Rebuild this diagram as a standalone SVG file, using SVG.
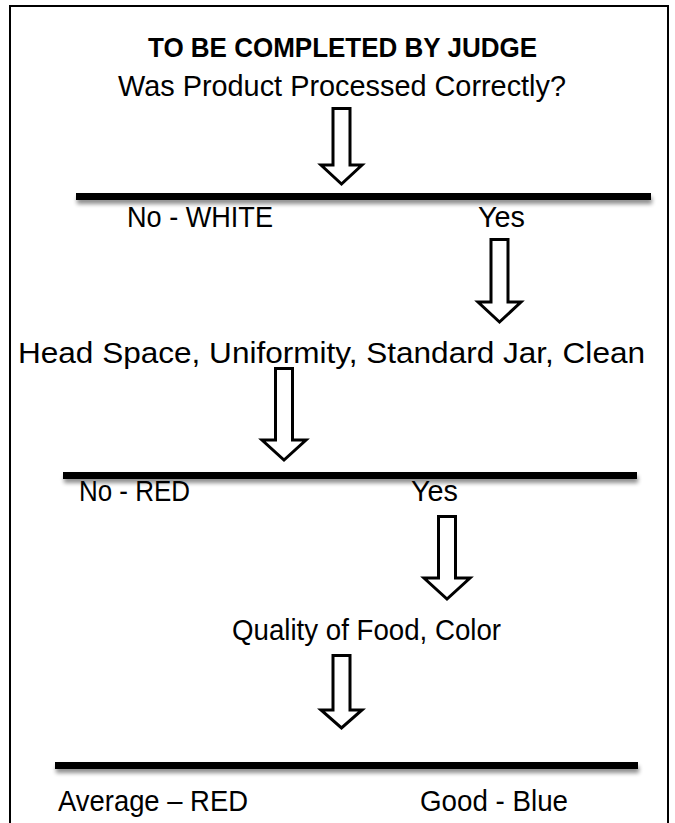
<svg xmlns="http://www.w3.org/2000/svg" width="675" height="823" viewBox="0 0 675 823">
<defs>
<filter id="shadow" filterUnits="userSpaceOnUse" x="0" y="0" width="675" height="823">
<feGaussianBlur in="SourceAlpha" stdDeviation="2.2"/>
<feOffset dx="1" dy="4" result="b"/>
<feComponentTransfer><feFuncA type="linear" slope="0.45"/></feComponentTransfer>
<feMerge><feMergeNode/><feMergeNode in="SourceGraphic"/></feMerge>
</filter>
</defs>
<style>
.t{font-family:"Liberation Sans",Arial,sans-serif;font-size:29px;fill:#000}
.b{font-weight:bold;font-size:28px}
.bar{fill:#000;filter:url(#shadow)}
.arr{fill:#fff;stroke:#000;stroke-width:3;stroke-linejoin:miter}
.frame{fill:none;stroke:#000;stroke-width:2}
</style>
<rect width="675" height="823" fill="#fff"/>
<path class="frame" d="M10,823 V6 H668 V823"/>

<g id="title"><text class="t b" x="148" y="57" textLength="389" lengthAdjust="spacingAndGlyphs">TO BE COMPLETED BY JUDGE</text></g>
<g id="q1"><text class="t" x="118" y="96" textLength="448" lengthAdjust="spacingAndGlyphs">Was Product Processed Correctly?</text></g>
<g id="no1"><text class="t" x="127" y="227" textLength="146" lengthAdjust="spacingAndGlyphs">No - WHITE</text></g>
<g id="yes1"><text class="t" x="478" y="227" textLength="47" lengthAdjust="spacingAndGlyphs">Yes</text></g>
<g id="q2"><text class="t" x="18" y="363" textLength="627" lengthAdjust="spacingAndGlyphs">Head Space, Uniformity, Standard Jar, Clean</text></g>
<g id="no2"><text class="t" x="79" y="501" textLength="111" lengthAdjust="spacingAndGlyphs">No - RED</text></g>
<g id="yes2"><text class="t" x="411" y="501" textLength="47" lengthAdjust="spacingAndGlyphs">Yes</text></g>
<g id="q3"><text class="t" x="232" y="640" textLength="269" lengthAdjust="spacingAndGlyphs">Quality of Food, Color</text></g>
<g id="avg"><text class="t" x="58" y="811" textLength="190" lengthAdjust="spacingAndGlyphs">Average – RED</text></g>
<g id="good"><text class="t" x="420" y="811" textLength="148" lengthAdjust="spacingAndGlyphs">Good - Blue</text></g>

<g id="connectors">
<rect class="bar" x="76" y="193" width="575" height="7"/>
<rect class="bar" x="63" y="472" width="574" height="7"/>
<rect class="bar" x="55" y="762" width="583" height="7"/>
<path class="arr" d="M333,108.5 H350 V165 H362 L341.5,184 L321,165 H333 Z"/>
<path class="arr" d="M491,239.5 H508 V302 H521 L499.5,322 L478,302 H491 Z"/>
<path class="arr" d="M275.5,368.5 H292.5 V440 H306 L284,460 L262,440 H275.5 Z"/>
<path class="arr" d="M438.5,516.5 H455.5 V578 H470 L447,599 L424,578 H438.5 Z"/>
<path class="arr" d="M333,655.5 H350 V710 H362 L341.5,728 L321,710 H333 Z"/>
</g>
</svg>
